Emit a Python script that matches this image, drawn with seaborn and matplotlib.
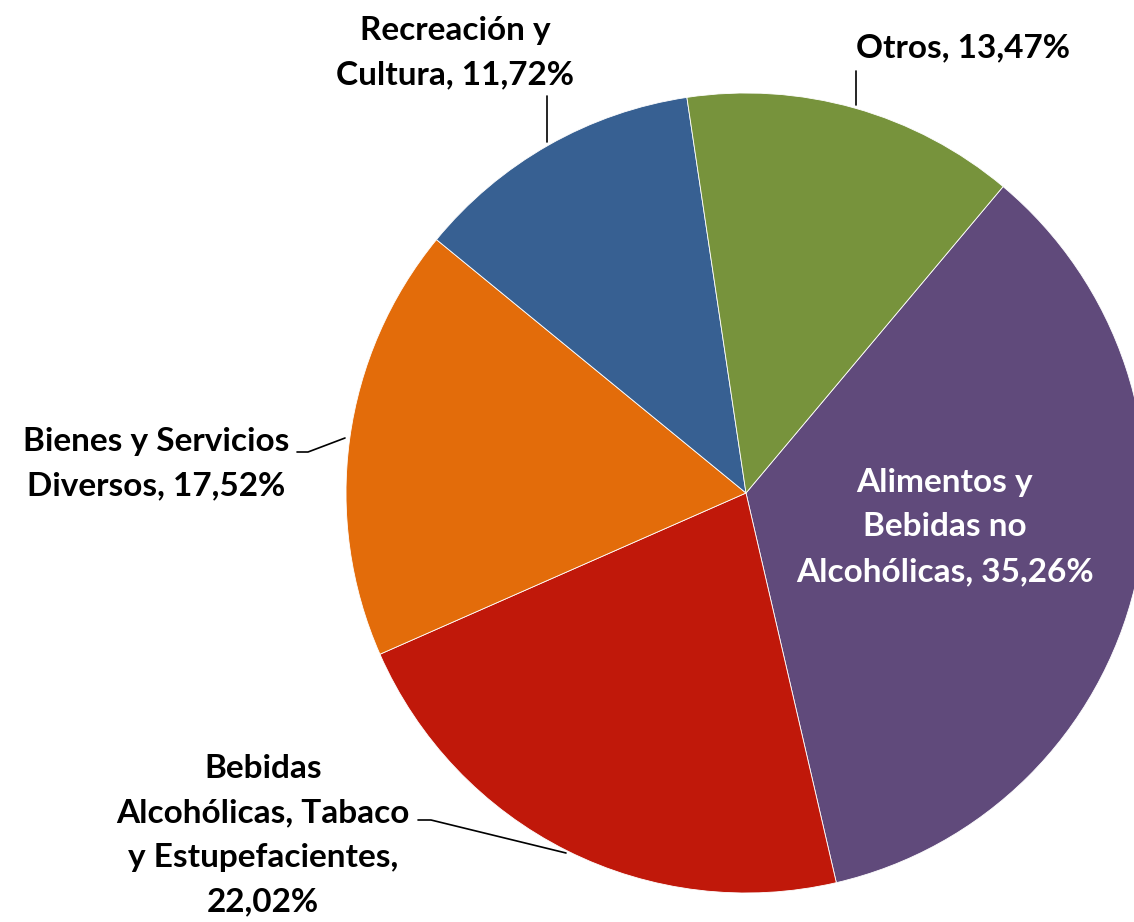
import matplotlib
matplotlib.use("Agg")
import matplotlib.pyplot as plt
import seaborn as sns

sns.set_theme(style="white")
plt.rcParams["font.family"] = ["Lato", "DejaVu Sans"]

# data
categorias = ["Alimentos y\nBebidas no\nAlcohólicas",
              "Bebidas\nAlcohólicas, Tabaco\ny Estupefacientes,",
              "Bienes y Servicios\nDiversos",
              "Recreación y\nCultura",
              "Otros"]
valores = [35.26, 22.02, 17.52, 11.72, 13.47]
colores = ["#604A7B", "#C0180A", "#E36C0A", "#376092", "#77933C"]

W, H = 1134, 922
fig = plt.figure(figsize=(W / 100, H / 100), dpi=100)
ax = fig.add_axes([0, 0, 1, 1])

ax.pie(valores, colors=colores, startangle=50, counterclock=False,
       center=(746, H - 493), radius=400,
       wedgeprops=dict(edgecolor="white", linewidth=0.6))
ax.set_xlim(0, W)
ax.set_ylim(0, H)
ax.set_aspect("equal")
ax.axis("off")


def fmt(v):
    return f"{v:.2f}".replace(".", ",") + "%"


# label texts
etiquetas = [
    f"Alimentos y\nBebidas no\nAlcohólicas, {fmt(valores[0])}",
    f"Bebidas\nAlcohólicas, Tabaco\ny Estupefacientes,\n{fmt(valores[1])}",
    f"Bienes y Servicios\nDiversos, {fmt(valores[2])}",
    f"Recreación y\nCultura, {fmt(valores[3])}",
    f"Otros, {fmt(valores[4])}",
]
pos = [(945, 527), (263, 835), (156, 464), (455, 53), (963, 48)]
txt_col = ["white", "black", "black", "black", "black"]

for lab, (x, y), c in zip(etiquetas, pos, txt_col):
    ax.text(x, H - y, lab, ha="center", va="center", fontsize=24,
            fontweight="bold", color=c, linespacing=1.65)

# leader lines
lineas = [
    [(547, 96), (547, 142)],
    [(856, 71), (856, 105)],
    [(297, 452), (308, 452), (345, 438)],
    [(418, 820), (431, 820), (566, 853)],
]
for pts in lineas:
    xs = [p[0] for p in pts]
    ys = [H - p[1] for p in pts]
    ax.plot(xs, ys, color="black", linewidth=1.2)

fig.savefig("out.png", dpi=100)
